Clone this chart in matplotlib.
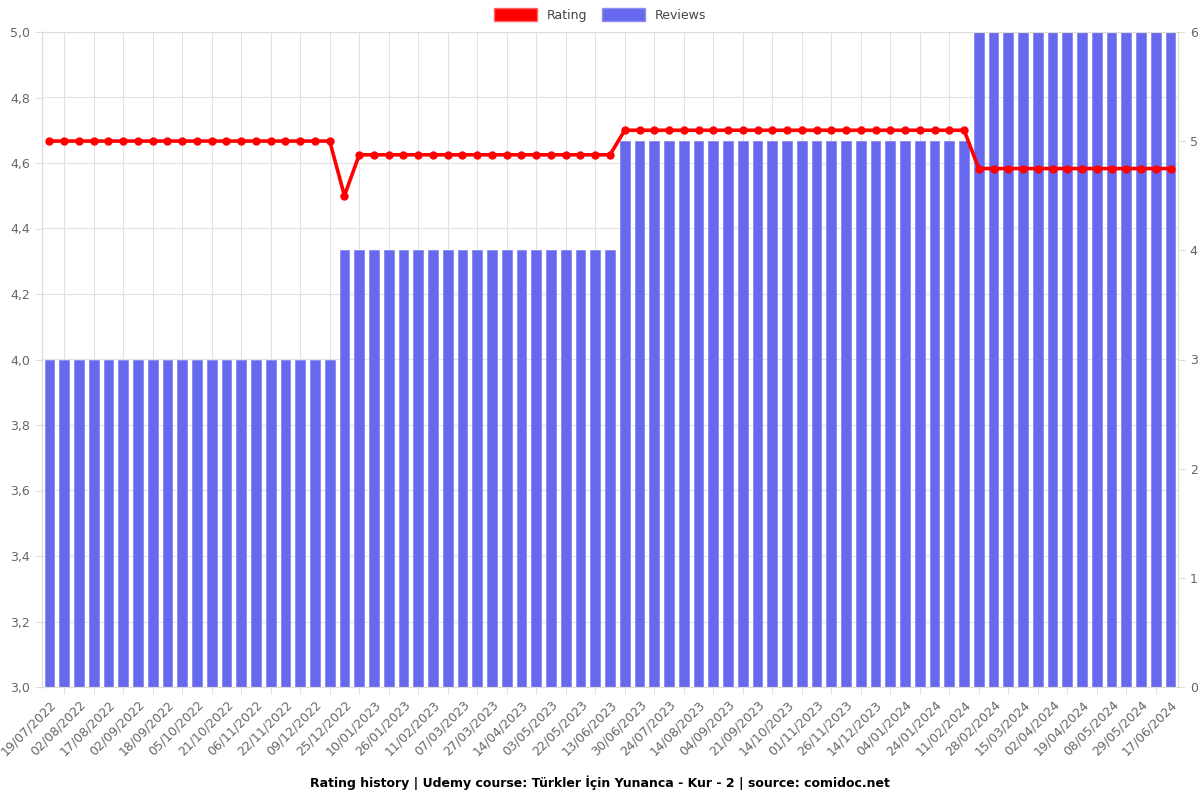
import numpy as np
import matplotlib.pyplot as plt
from matplotlib.patches import Patch

# tick labels (every other data point is labelled)
tickLabels = ['19/07/2022', '02/08/2022', '17/08/2022', '02/09/2022', '18/09/2022', '05/10/2022',
              '21/10/2022', '06/11/2022', '22/11/2022', '09/12/2022', '25/12/2022', '10/01/2023',
              '26/01/2023', '11/02/2023', '07/03/2023', '27/03/2023', '14/04/2023', '03/05/2023',
              '22/05/2023', '13/06/2023', '30/06/2023', '24/07/2023', '14/08/2023', '04/09/2023',
              '21/09/2023', '14/10/2023', '01/11/2023', '26/11/2023', '14/12/2023', '04/01/2024',
              '24/01/2024', '11/02/2024', '28/02/2024', '15/03/2024', '02/04/2024', '19/04/2024',
              '08/05/2024', '29/05/2024', '17/06/2024']

rating = [4.667] * 20 + [4.5] + [4.625] * 18 + [4.7] * 24 + [4.583] * 14
reviews = [3] * 20 + [4] * 19 + [5] * 24 + [6] * 14

n = len(rating)
x = np.arange(n)

fig = plt.figure(figsize=(12, 8), dpi=100)
ax = fig.add_axes([42 / 1200, 1 - 687 / 800, 1136 / 1200, 655 / 800])
ax2 = ax.twinx()

ax.set_xlim(-0.5, n - 0.5)
ax.set_ylim(3.0, 5.0)
ax2.set_ylim(0, 6)

yt = np.arange(3.0, 5.01, 0.2)

# grid drawn on the bar axes so the bars sit on top of it
for v in yt:
    ax2.axhline((v - 3.0) / 2.0 * 6, color='#e2e2e2', linewidth=0.8, zorder=0)
for xi in x[1::2]:
    ax2.axvline(xi, color='#e2e2e2', linewidth=0.8, zorder=0)

ax2.bar(x, reviews, width=0.66, color='#6668ee', edgecolor='#7f80f0', linewidth=0.5, zorder=1)
ax.plot(x, rating, color='#ff0000', linewidth=2.6, marker='o', markersize=5, zorder=5)

# rating line above bars
ax.set_zorder(ax2.get_zorder() + 1)
ax.patch.set_visible(False)

ax.set_yticks(yt)
ax.set_yticklabels([f"{v:.1f}".replace('.', ',') for v in yt])
ax2.set_yticks(range(0, 7))

ax.set_xticks(x[::2])
ax.set_xticklabels(tickLabels, rotation=45, ha='right', rotation_mode='anchor')
ax.set_xticks(x[1::2], minor=True)
ax.tick_params(axis='x', which='major', length=0, pad=8)
ax.tick_params(axis='x', which='minor', length=5, color='#dddddd')

for a in (ax, ax2):
    a.tick_params(axis='y', length=5, color='#dddddd', labelsize=9, labelcolor='#666666')
    a.tick_params(axis='x', labelsize=9, labelcolor='#666666')
    for s in a.spines.values():
        s.set_color('#dddddd')

# legend at the top
handles = [Patch(facecolor='#ff0000', edgecolor='#ff6666'), Patch(facecolor='#6668ee', edgecolor='#8f90f2')]
fig.legend(handles, ['Rating', 'Reviews'], loc='center', bbox_to_anchor=(0.5, 0.981), ncol=2,
           frameon=False, fontsize=9, handlelength=3.4, handleheight=1.2, columnspacing=1.2,
           labelcolor='#444444')

fig.text(0.5, 0.021, 'Rating history | Udemy course: Türkler İçin Yunanca - Kur - 2 | source: comidoc.net',
         ha='center', va='center', fontsize=9, fontweight='bold')

plt.savefig('out.png')
